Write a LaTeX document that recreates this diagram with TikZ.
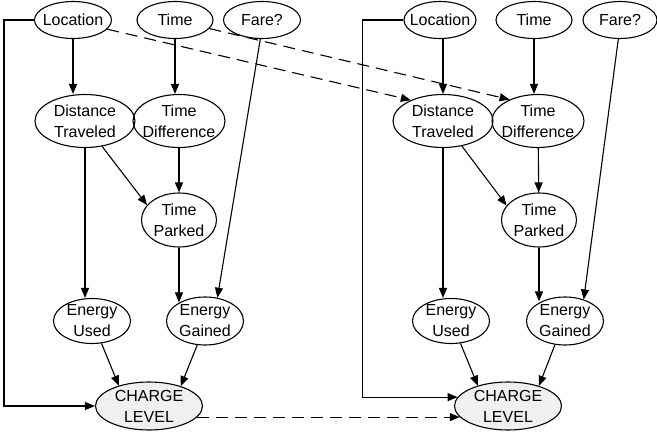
\documentclass[tikz,border=0pt]{standalone}
\usepackage{fontspec}
\setmainfont{Liberation Sans}
\usepackage{tikz}
\usetikzlibrary{shapes.geometric,arrows.meta,positioning,calc}
\definecolor{chargegray}{RGB}{240, 240, 240}

\begin{document}
\begin{tikzpicture}[
    x=1pt, y=-1pt,
    font=\fontsize{16}{21}\selectfont,
    var/.style={ellipse, draw, line width=1.1pt, inner xsep=-14pt, inner ysep=-8pt, align=center},
    charge/.style={var, fill=chargegray},
    arr/.style={-{Triangle[length=10pt,width=8pt]}, line width=1.1pt},
    link/.style={arr, dash pattern=on 12pt off 7pt},
]
    \useasboundingbox (0,0) rectangle (657,434);

    % Left network
    \node[var, minimum width=77pt, minimum height=37pt] (loc) at (73,20) {Location};
    \node[var, minimum width=76pt, minimum height=37pt] (time) at (175,20) {Time};
    \node[var, minimum width=77pt, minimum height=37pt] (fare) at (262,20) {Fare?};
    \node[var, minimum width=100pt, minimum height=53pt] (dist) at (85,121) {Distance\\Traveled};
    \node[var, minimum width=92pt, minimum height=53pt] (tdiff) at (179,121) {Time\\Difference};
    \node[var, minimum width=75pt, minimum height=54pt] (tpark) at (179,220) {Time\\Parked};
    \node[var, minimum width=77pt, minimum height=45pt] (used) at (92,321) {Energy\\Used};
    \node[var, minimum width=77pt, minimum height=48pt] (gain) at (205,321) {Energy\\Gained};
    \node[charge, minimum width=107pt, minimum height=48pt] (level) at (149,406) {CHARGE\\LEVEL};

    % Right network
    \node[var, minimum width=72pt, minimum height=37pt] (loc2) at (440,20) {Location};
    \node[var, minimum width=76pt, minimum height=37pt] (time2) at (534,20) {Time};
    \node[var, minimum width=74pt, minimum height=37pt] (fare2) at (620,20) {Fare?};
    \node[var, minimum width=100pt, minimum height=53pt] (dist2) at (443,121) {Distance\\Traveled};
    \node[var, minimum width=92pt, minimum height=53pt] (tdiff2) at (538,121) {Time\\Difference};
    \node[var, minimum width=75pt, minimum height=54pt] (tpark2) at (539,220) {Time\\Parked};
    \node[var, minimum width=77pt, minimum height=45pt] (used2) at (451,321) {Energy\\Used};
    \node[var, minimum width=77pt, minimum height=48pt] (gain2) at (565,321) {Energy\\Gained};
    \node[charge, minimum width=107pt, minimum height=48pt] (level2) at (508,406) {CHARGE\\LEVEL};

    % Arrows, left
    \draw[arr] (loc.south) -- (loc.south |- dist.north);
    \draw[arr] (time.south) -- (time.south |- tdiff.north);
    \draw[arr] (dist.south) -- (dist.south |- used.north);
    \draw[arr] (dist.-56) -- (tpark.155);
    \draw[arr] (tdiff) -- (tpark);
    \draw[arr] (tpark.south) -- (tpark.south |- gain.144);
    \draw[arr] (fare.265) -- (gain.62);
    \draw[arr] (used.-67) -- (level.146);
    \draw[arr] (gain.-108) -- (level.32);
    \draw[arr] (loc.west) -- ++(-30,0) |- (level.west);

    % Arrows, right
    \draw[arr] (dist2.north |- loc2.south) -- (dist2.north);
    \draw[arr] (time2.south) -- (time2.south |- tdiff2.north);
    \draw[arr] (dist2.south) -- (dist2.south |- used2.north);
    \draw[arr] (dist2.-53) -- (tpark2.156);
    \draw[arr] (tdiff2) -- (tpark2);
    \draw[arr] (tpark2.south) -- (tpark2.south |- gain2.140);
    \draw[arr] (fare2.265) -- (gain2.49);
    \draw[arr] (used2.-67) -- (level2.146);
    \draw[arr] (gain2.-113) -- (level2.33);
    \draw[arr] (loc2.west) -- ++(-41,0) |- (level2.170);

    % Links between time slices
    \draw[link] (loc.-15) -- (dist2.147);
    \draw[link] (time.-14) -- (tdiff2.143);
    \draw[link] (level.-13) -- (level2.193);
\end{tikzpicture}
\end{document}
